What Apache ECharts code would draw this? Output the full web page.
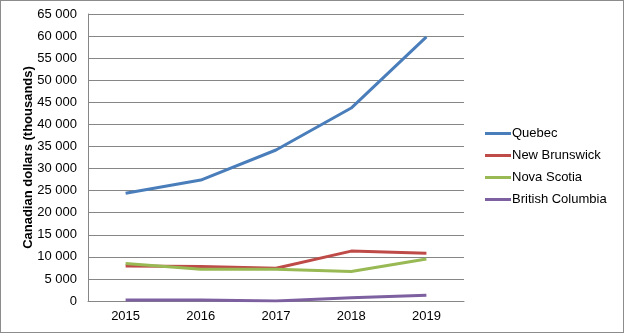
<!DOCTYPE html>
<html>
<head>
<meta charset="utf-8">
<script src="https://cdn.jsdelivr.net/npm/echarts@6/dist/echarts.min.js"></script>
<style>
  html, body { margin: 0; padding: 0; background: #fff; }
  #chart { width: 624px; height: 333px; box-sizing: border-box; border: 1px solid #8c8c8c; }
</style>
</head>
<body>
<div id="chart"></div>
<script>
// Years on the category axis
const years = ['2015', '2016', '2017', '2018', '2019'];

// Values in thousands of Canadian dollars
const quebec = [24400, 27400, 34200, 43700, 59800];
const newBrunswick = [7900, 7800, 7400, 11300, 10800];
const novaScotia = [8500, 7200, 7200, 6700, 9500];
const britishColumbia = [230, 200, 0, 750, 1300];

const seriesNames = ['Quebec', 'New Brunswick', 'Nova Scotia', 'British Columbia'];
const seriesColors = ['#4a7ebb', '#be4b48', '#98b954', '#7d60a0'];
const seriesData = [quebec, newBrunswick, novaScotia, britishColumbia];

const fmt = v => {
  const s = String(Math.round(v));
  return s.replace(/\B(?=(\d{3})+(?!\d))/g, ' ');
};

const chart = echarts.init(document.getElementById('chart'), null, { renderer: 'canvas' });

chart.setOption({
  animation: false,
  textStyle: { fontFamily: 'Liberation Sans, Arial, sans-serif' },
  grid: { left: 87, right: 159, top: 13, bottom: 31, containLabel: false },
  legend: {
    orient: 'vertical',
    left: 484,
    top: 126,
    padding: 0,
    itemWidth: 26,
    itemHeight: 3,
    itemGap: 9,
    icon: 'rect',
    textStyle: { fontSize: 13, color: '#000', padding: [0, 0, 0, -4] },
    data: seriesNames
  },
  xAxis: {
    type: 'category',
    data: years,
    boundaryGap: true,
    axisLine: { lineStyle: { color: '#868686', width: 1 } },
    axisTick: { show: false },
    axisLabel: { color: '#000', fontSize: 13, margin: 9 }
  },
  yAxis: {
    type: 'value',
    min: 0,
    max: 65000,
    interval: 5000,
    name: 'Canadian dollars (thousands)',
    nameLocation: 'middle',
    nameGap: 53,
    nameMoveOverlap: false,
    nameTextStyle: { fontWeight: 'bold', fontSize: 13, color: '#000' },
    axisLine: { show: true, lineStyle: { color: '#868686', width: 1 } },
    axisTick: { show: false },
    axisLabel: { color: '#000', fontSize: 13, margin: 11, formatter: fmt },
    splitLine: { lineStyle: { color: '#868686', width: 1 } }
  },
  series: seriesData.map((d, i) => ({
    name: seriesNames[i],
    type: 'line',
    data: d,
    symbol: 'none',
    color: seriesColors[i],
    lineStyle: { width: 3, color: seriesColors[i] }
  }))
});
</script>
</body>
</html>
